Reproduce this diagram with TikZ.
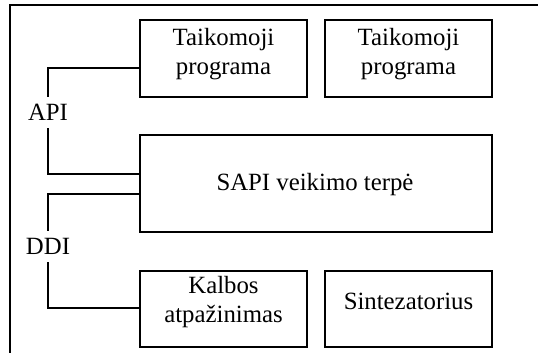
\documentclass[tikz,border=0pt]{standalone}
\usepackage{fontspec}
\setmainfont{Liberation Serif}
\begin{document}
\begin{tikzpicture}[x=0.5pt,y=-0.5pt,
  every node/.style={font=\fontsize{12.4}{14.5}\selectfont},
  box/.style={draw,line width=0.8pt,rectangle,inner sep=0pt,outer sep=0pt,anchor=north west},
  txt/.style={align=center,inner sep=0pt,anchor=base},
  tag/.style={inner xsep=0pt,inner ysep=3.5pt},
  link/.style={line width=0.8pt}]
\useasboundingbox (0,0) rectangle (538,353);

% outer frame (top and left sides only)
\draw[link] (538,5) -- (10,5) -- (10,353);

% boxes
\node[box,minimum width=83.5pt,minimum height=38.5pt] (app1) at (140,20) {};
\node[box,minimum width=83.5pt,minimum height=38.5pt] (app2) at (325,20) {};
\node[box,minimum width=176pt,minimum height=48.5pt] (sapi) at (140,135) {};
\node[box,minimum width=83.5pt,minimum height=38pt] (rec) at (140,271) {};
\node[box,minimum width=83.5pt,minimum height=38pt] (tts) at (325,271) {};

% box texts (base anchor sits on the last line)
\node[txt] (app1t) at (223.5,75) {Taikomoji\\programa};
\node[txt] (app2t) at (408.5,75) {Taikomoji\\programa};
\node[txt] (sapit) at (315,190.5) {SAPI veikimo terpė};
\node[txt] (rect) at (223.5,323) {Kalbos\\atpažinimas};
\node[txt] (ttst) at (408.5,310) {Sintezatorius};

% interface labels
\node[tag] (api) at (48,112.5) {API};
\node[tag] (ddi) at (48,246.5) {DDI};

% connectors
\draw[link] (app1.west |- 0,68) -| (api.north);
\draw[link] (api.south) |- (sapi.west |- 0,174);
\draw[link] (sapi.west |- 0,194) -| (ddi.north);
\draw[link] (ddi.south) |- (rec.west |- 0,308);
\end{tikzpicture}
\end{document}
